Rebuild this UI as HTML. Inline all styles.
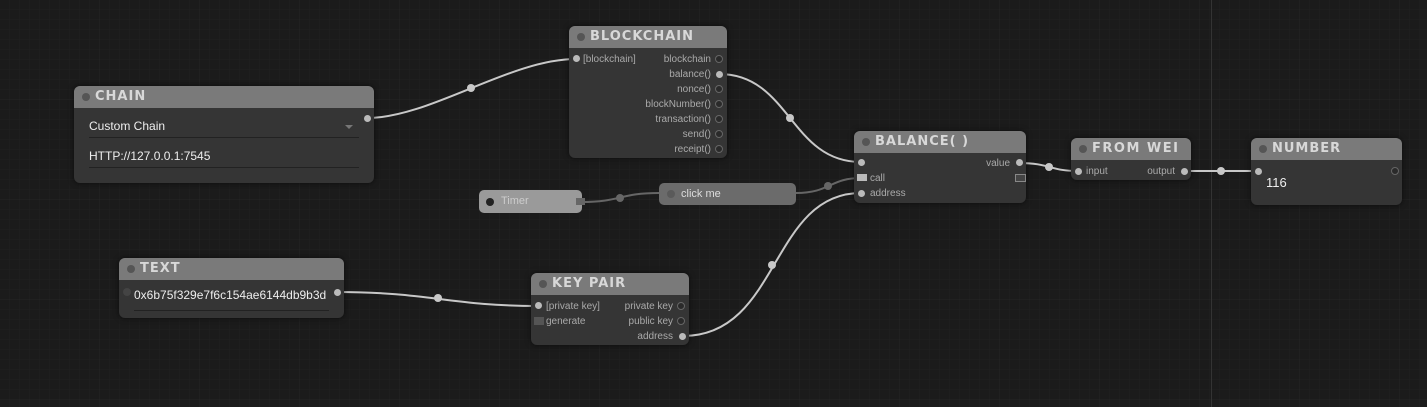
<!DOCTYPE html>
<html><head><meta charset="utf-8"><style>
*{margin:0;padding:0;box-sizing:border-box}
body{width:1427px;height:407px;overflow:hidden;background:#1b1b1b;font-family:"Liberation Sans",sans-serif;position:relative}
.g{position:absolute;left:0;top:0}
.n{position:absolute;background:#353535;border-radius:6px;box-shadow:0 0 6px rgba(0,0,0,.6)}
.t{height:22px;background:#7a7a7a;border-radius:6px 6px 0 0;color:#d8d8d8;font-weight:bold;font-size:13px;letter-spacing:1px;line-height:22px;padding-left:21px;position:relative;font-family:"DejaVu Sans",sans-serif;white-space:nowrap;overflow:hidden}
.t:before{content:"";position:absolute;left:8px;top:7px;width:8px;height:8px;border-radius:50%;background:#555}
.l{position:absolute;font-size:10px;color:#aaa;white-space:nowrap}
.d{position:absolute;width:7px;height:7px;border-radius:50%;background:#bbb}
.o{position:absolute;width:8px;height:8px;border-radius:50%;background:#2a2a2a;border:1px solid #666}
.w{position:absolute;color:#eee;font-size:12px;white-space:nowrap}
.u{position:absolute;height:1px;background:#222}
</style></head><body>
<svg class="g" width="1427" height="407">
<defs><pattern id="p" width="10" height="10" patternUnits="userSpaceOnUse"><path d="M10 0V10H0" fill="none" stroke="#202020" stroke-width="1"/></pattern>
<pattern id="q" width="100" height="100" patternUnits="userSpaceOnUse"><path d="M100 0V100H0" fill="none" stroke="#262626" stroke-width="1"/></pattern></defs>
<rect width="1427" height="407" fill="url(#p)"/><rect width="1427" height="407" fill="url(#q)"/>
<line x1="1211.5" y1="0" x2="1211.5" y2="407" stroke="#333"/>
<g fill="none" stroke="#c8c8c8" stroke-width="2">
<path d="M367 118 C430 118 510 59 576 59"/>
<path d="M719 74 C790 74 790 162 861 162"/>
<path d="M337 292 C430 292 450 306 538 306"/>
<path d="M683 336 C780 336 770 193 861 193"/>
<path d="M1019 163 C1050 163 1050 171 1078 171"/>
<path d="M1184 171 L1258 171"/>
</g>
<g fill="none" stroke="#666" stroke-width="2">
<path d="M582 202 C620 202 620 193 659 193"/>
<path d="M796 193 C830 193 830 178 861 178"/>
</g>
<g fill="#c8c8c8"><circle cx="471" cy="88" r="4"/><circle cx="790" cy="118" r="4"/><circle cx="438" cy="298" r="4"/><circle cx="772" cy="265" r="4"/><circle cx="1049" cy="167" r="4"/><circle cx="1221" cy="171" r="4"/></g>
<g fill="#666"><circle cx="620" cy="198" r="4"/><circle cx="828" cy="186" r="4"/></g>
</svg>

<div class="n" style="left:74px;top:86px;width:300px;height:97px"><div class="t">CHAIN</div>
<div class="w" style="left:15px;top:33px">Custom Chain</div>
<div style="position:absolute;left:271px;top:39px;border:4px solid transparent;border-top:4px solid #777"></div>
<div class="u" style="left:15px;top:51px;width:270px"></div>
<div class="w" style="left:15px;top:63px">HTTP://127.0.0.1:7545</div>
<div class="u" style="left:15px;top:81px;width:270px"></div>
</div>
<div class="d" style="left:364px;top:115px"></div>

<div class="n" style="left:569px;top:26px;width:158px;height:132px"><div class="t">BLOCKCHAIN</div>
<div class="d" style="left:4px;top:29px"></div><div class="l" style="left:14px;top:28px">[blockchain]</div>
<div class="l" style="right:16px;top:28px">blockchain</div><div class="o" style="left:146px;top:29px"></div>
<div class="l" style="right:16px;top:43px">balance()</div><div class="d" style="left:147px;top:45px"></div>
<div class="l" style="right:16px;top:58px">nonce()</div><div class="o" style="left:146px;top:59px"></div>
<div class="l" style="right:16px;top:73px">blockNumber()</div><div class="o" style="left:146px;top:74px"></div>
<div class="l" style="right:16px;top:88px">transaction()</div><div class="o" style="left:146px;top:89px"></div>
<div class="l" style="right:16px;top:103px">send()</div><div class="o" style="left:146px;top:104px"></div>
<div class="l" style="right:16px;top:118px">receipt()</div><div class="o" style="left:146px;top:119px"></div>
</div>

<div class="n" style="left:854px;top:131px;width:172px;height:72px"><div class="t">BALANCE( )</div>
<div class="d" style="left:4px;top:28px"></div>
<div class="l" style="right:16px;top:27px">value</div><div class="d" style="left:162px;top:28px"></div>
<div style="position:absolute;left:3px;top:43px;width:10px;height:7px;background:#bbb"></div><div class="l" style="left:16px;top:42px">call</div>
<div style="position:absolute;left:161px;top:43px;width:11px;height:8px;background:#444;border:1px solid #888"></div>
<div class="d" style="left:4px;top:59px"></div><div class="l" style="left:16px;top:57px">address</div>
</div>

<div class="n" style="left:1071px;top:138px;width:120px;height:42px"><div class="t" style="letter-spacing:1.5px">FROM WEI</div>
<div class="d" style="left:4px;top:30px"></div><div class="l" style="left:15px;top:28px">input</div>
<div class="l" style="right:16px;top:28px">output</div><div class="d" style="left:110px;top:30px"></div>
</div>

<div class="n" style="left:1251px;top:138px;width:151px;height:67px"><div class="t">NUMBER</div>
<div class="d" style="left:4px;top:30px"></div>
<div class="o" style="left:140px;top:29px"></div>
<div class="w" style="left:15px;top:37px;font-size:13px">116</div>
</div>

<div style="position:absolute;left:479px;top:190px;width:103px;height:23px;background:#9a9a9a;border-radius:5px">
<div style="position:absolute;left:7px;top:8px;width:8px;height:8px;border-radius:50%;background:#222"></div>
<div class="l" style="left:22px;top:5px;font-size:11px;color:#ccc">Timer</div>
<div style="position:absolute;left:97px;top:8px;width:9px;height:7px;background:#666"></div>
</div>

<div style="position:absolute;left:659px;top:183px;width:137px;height:22px;background:#6b6b6b;border-radius:5px">
<div style="position:absolute;left:8px;top:7px;width:8px;height:8px;border-radius:50%;background:#5a5a5a"></div>
<div class="l" style="left:22px;top:5px;font-size:11px;color:#ddd">click me</div>
</div>

<div class="n" style="left:119px;top:258px;width:225px;height:60px"><div class="t">TEXT</div>
<div class="o" style="left:4px;top:30px;background:#444;border-color:#444"></div>
<div class="w" style="left:15px;top:30px">0x6b75f329e7f6c154ae6144db9b3d</div>
<div class="d" style="left:215px;top:31px"></div>
<div class="u" style="left:15px;top:52px;width:195px"></div>
</div>

<div class="n" style="left:531px;top:273px;width:158px;height:72px"><div class="t">KEY PAIR</div>
<div class="d" style="left:4px;top:29px"></div><div class="l" style="left:15px;top:28px">[private key]</div>
<div class="l" style="right:16px;top:28px">private key</div><div class="o" style="left:146px;top:29px"></div>
<div style="position:absolute;left:3px;top:44px;width:10px;height:8px;background:#555"></div><div class="l" style="left:15px;top:43px">generate</div>
<div class="l" style="right:16px;top:43px">public key</div><div class="o" style="left:146px;top:44px"></div>
<div class="l" style="right:16px;top:58px">address</div><div class="d" style="left:148px;top:60px"></div>
</div>
</body></html>
